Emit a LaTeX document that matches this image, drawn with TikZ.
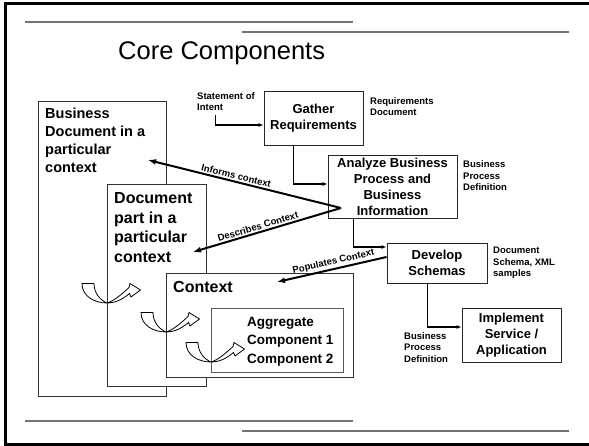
\documentclass[tikz,border=0pt]{standalone}
\usepackage{fontspec}
\setmainfont{Liberation Sans}
\usetikzlibrary{arrows.meta,positioning}
\begin{document}
\begin{tikzpicture}[x=1pt, y=-1pt,
  box/.style={draw=black!85, line width=0.9pt, fill=white, inner sep=0pt, align=center, font=\fontsize{13}{16}\selectfont\bfseries},
  layer/.style={draw=black!80, line width=0.8pt, fill=white, inner sep=0pt, anchor=north west},
  lbl/.style={inner sep=0pt, anchor=base west, align=left, font=\bfseries},
  note/.style={lbl, font=\fontsize{9.5}{11.5}\selectfont\bfseries},
  flow/.style={line width=1.4pt, -{Latex[length=5pt,width=4pt]}},
  feed/.style={line width=2pt, -{Latex[length=8pt,width=6pt]}},
  feedlabel/.style={sloped, above, inner sep=1.5pt, font=\fontsize{9.5}{11}\selectfont\bfseries},
  uturn/.style={line width=0.8pt, fill=white, line join=round},
  rule/.style={draw=black!55, line width=1.5pt}]
\useasboundingbox (0,0) rectangle (589,446);
\draw[line width=3pt] (600,3.2) -- (5,3.2) -- (5,444.5) -- (600,444.5);
\draw[rule] (25,22) -- (353,22);
\draw[rule] (242,32) -- (569,32);
\draw[rule] (25,421) -- (353,421);
\draw[rule] (242,431) -- (569,431);

\node[font=\fontsize{25.5}{30}\selectfont, anchor=base west, inner sep=0pt] (title) at (118,60) {Core Components};

\node[layer, minimum width=128pt, minimum height=295pt] (bdoc) at (38,101) {};
\node[lbl, font=\fontsize{14.5}{18}\selectfont\bfseries] (bdoc-text) at (45,173) {Business\\Document in a\\particular\\context};
\node[layer, minimum width=99pt, minimum height=202pt] (dpart) at (107,184) {};
\node[lbl, font=\fontsize{16}{19.5}\selectfont\bfseries] (dpart-text) at (114,262.5) {Document\\part in a\\particular\\context};
\node[layer, minimum width=187pt, minimum height=104pt] (ctx) at (166,273) {};
\node[lbl, font=\fontsize{16}{19}\selectfont\bfseries] (ctx-text) at (173,293) {Context};
\node[layer, draw=black!65, line width=1pt, minimum width=132pt, minimum height=64pt] (agg) at (211,308) {};
\node[lbl, font=\fontsize{13.5}{18.5}\selectfont\bfseries] (agg-text) at (247,363) {Aggregate\\Component 1\\Component 2};

\coordinate (t1) at (107,303);
\coordinate (t2) at (166,332);
\coordinate (t3) at (211,362);
\foreach \p in {t1,t2,t3}
  \draw[uturn, shift={(\p)}] (-25,-19.5) .. controls (-25,-7) and (-13,0) .. (0,0)
    .. controls (10,0) and (17,-5) .. (22.5,-9.5) -- (24,-6) -- (33.5,-13) -- (23,-19.5) -- (22,-15.5)
    .. controls (15,-9) and (7,-2) .. (0,0) .. controls (-7,-3) and (-13,-10) .. (-13,-19.5) -- cycle;

\node[box, minimum width=99pt, minimum height=54pt] (gather) at (313.5,118) {Gather\\Requirements};
\node[box, minimum width=129pt, minimum height=63pt] (analyze) at (392.5,186.5) {Analyze Business\\Process and\\Business\\Information};
\node[box, minimum width=100pt, minimum height=40pt] (develop) at (437,263) {Develop\\Schemas};
\node[box, minimum width=99pt, minimum height=54pt] (implement) at (511.5,335) {Implement\\Service /\\Application};

\node[note] (intent) at (197,111) {Statement of\\Intent};
\node[note] (reqdoc) at (370,116) {Requirements\\Document};
\node[note] (bpdef) at (463,191) {Business\\Process\\Definition};
\node[note] (schema) at (493,277) {Document\\Schema, XML\\samples};
\node[note] (bpimpl) at (404,362) {Business\\Process\\Definition};

\draw[flow] ([xshift=18.5pt, yshift=-4pt]intent.south west) |- ([yshift=-7pt]gather.west);
\draw[flow] ([xshift=30pt]gather.south west) |- ([yshift=2.5pt]analyze.west);
\draw[flow] ([xshift=26pt]analyze.south west) |- ([yshift=16pt]develop.west);
\draw[flow] ([xshift=41pt]develop.south west) |- ([yshift=8pt]implement.west);

\coordinate (src) at (341,208);
\coordinate (bdoc-in) at (148,160);
\coordinate (dpart-in) at (193,252);
\coordinate (ctx-in) at (277,282);
\draw[feed] (src) -- node[feedlabel, pos=0.55] {Informs context} (bdoc-in);
\draw[feed] (src) -- node[feedlabel, pos=0.55] {Describes Context} (dpart-in);
\draw[feed] ([yshift=6pt]develop.west) -- node[feedlabel, pos=0.47] {Populates Context} (ctx-in);
\end{tikzpicture}
\end{document}
